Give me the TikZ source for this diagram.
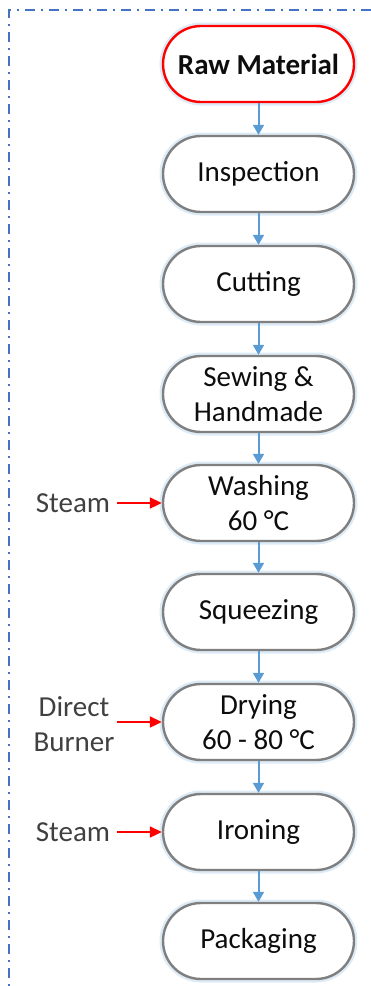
\documentclass[tikz,border=0pt]{standalone}
\usepackage{fontspec}
\setmainfont{Carlito}
\usetikzlibrary{arrows.meta,shapes.misc}
\definecolor{flowblue}{HTML}{5B9BD5}
\definecolor{framecol}{HTML}{4472C4}
\definecolor{boxgray}{HTML}{7F7F7F}
\definecolor{labgray}{HTML}{404040}
\definecolor{halo}{HTML}{DDEBF7}
\begin{document}
\begin{tikzpicture}[x=1pt,y=-1pt,
  stepbox/.style={rounded rectangle, draw=boxgray, line width=2.4pt, fill=white,
    preaction={draw=halo, line width=7pt},
    minimum width=191pt, minimum height=76pt, inner sep=0pt, align=center,
    font=\fontsize{29}{35}\selectfont, text=black!95},
  startbox/.style={stepbox, draw=red, font=\fontsize{29}{35}\selectfont\bfseries},
  flow/.style={draw=flowblue, line width=2pt, -{Triangle[width=11pt,length=10pt]}},
  feed/.style={draw=red, line width=2pt, -{Triangle[width=11pt,length=12pt]}},
  inlabel/.style={font=\fontsize{29}{35}\selectfont, text=labgray, align=center, inner sep=0pt}]
  \useasboundingbox (0,0) rectangle (371,986);

  % open frame: top and left edges only
  \draw[framecol, line width=2pt, dash pattern=on 10pt off 6pt on 2pt off 6pt]
    (371,10) -- (9,10) -- (9,986);

  % process steps
  \node[startbox] (raw)  at (258.5,64)  {Raw Material};
  \node[stepbox]  (insp) at (258.5,174) {Inspection};
  \node[stepbox]  (cut)  at (258.5,284) {Cutting};
  \node[stepbox]  (sew)  at (258.5,394) {Sewing \&\\Handmade};
  \node[stepbox]  (wash) at (258.5,503) {Washing\\60 °C};
  \node[stepbox]  (sqz)  at (258.5,612) {Squeezing};
  \node[stepbox]  (dry)  at (258.5,722) {Drying\\60 - 80 °C};
  \node[stepbox]  (iron) at (258.5,832) {Ironing};
  \node[stepbox]  (pack) at (258.5,941) {Packaging};

  \foreach \a/\b in {raw/insp, insp/cut, cut/sew, sew/wash, wash/sqz, sqz/dry, dry/iron, iron/pack}
    \draw[flow] (\a.south) -- (\b.north);

  % heat inputs
  \node[inlabel] (steamA) at (73,503) {Steam};
  \node[inlabel] (burner) at (74,724) {Direct\\Burner};
  \node[inlabel] (steamB) at (73,832) {Steam};
  \coordinate (inA) at (117,503);
  \coordinate (inB) at (117,722);
  \coordinate (inC) at (117,832);
  \draw[feed] (inA) -- (wash.west);
  \draw[feed] (inB) -- (dry.west);
  \draw[feed] (inC) -- (iron.west);
\end{tikzpicture}
\end{document}
